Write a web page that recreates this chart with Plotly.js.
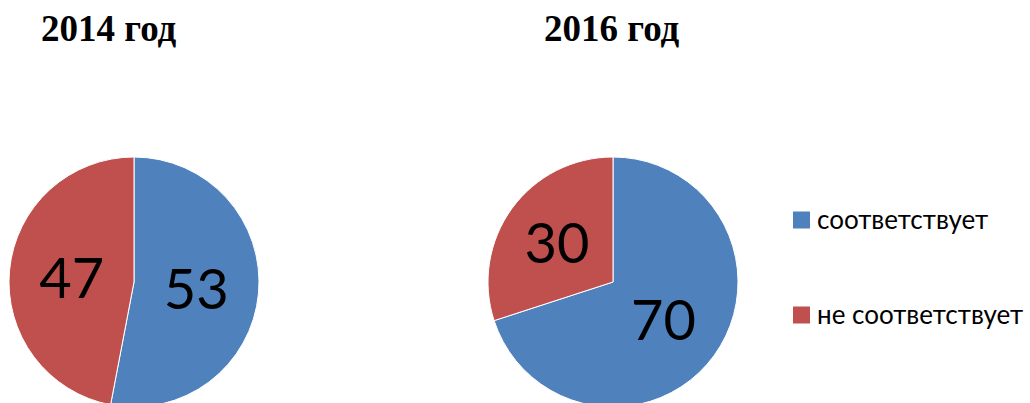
<!DOCTYPE html>
<html>
<head>
<meta charset="utf-8">
<script src="https://cdn.plot.ly/plotly-3.0.1.min.js"></script>
<style>
html, body { margin: 0; padding: 0; overflow: hidden; background: #fff; }
#chart { width: 1030px; height: 420px; }
</style>
</head>
<body>
<div id="chart"></div>
<script>
var categories = ["соответствует", "не соответствует"];
var years = ["2014 год", "2016 год"];
var values2014 = [53, 47];
var values2016 = [70, 30];
var colors = ["#4F81BD", "#C0504D"];

var W = 1030, H = 420;
function px(x) { return x / W; }
function py(yTop) { return (H - yTop) / H; }

var R = 125;
var centers = [[134, 282], [613, 282]];
var series = [values2014, values2016];

var data = series.map(function (vals, i) {
  var cx = centers[i][0], cy = centers[i][1];
  return {
    type: "pie",
    labels: categories,
    values: vals,
    sort: false,
    direction: "clockwise",
    rotation: 0,
    marker: { colors: colors, line: { color: "#FFFFFF", width: 1 } },
    textinfo: "value",
    textposition: "inside",
    insidetextorientation: "horizontal",
    textfont: { family: "Lato, 'Open Sans', sans-serif", size: 56, color: "#000000" },
    hoverinfo: "label+value",
    showlegend: false,
    domain: { x: [px(cx - R), px(cx + R)], y: [py(cy + R), py(cy - R)] }
  };
});

var titleX = [108.5, 611.5];
var annotations = years.map(function (t, i) {
  return {
    text: "<b>" + t + "</b>", xref: "paper", yref: "paper",
    x: px(titleX[i]), y: py(29), xanchor: "center", yanchor: "middle",
    showarrow: false,
    font: { family: "'Liberation Serif', 'Times New Roman', serif", size: 37, color: "#000000" }
  };
});

var legendY = [220, 315];
var shapes = [];
categories.forEach(function (c, i) {
  shapes.push({
    type: "rect", xref: "paper", yref: "paper",
    x0: px(793), x1: px(810), y0: py(legendY[i] + 8.5), y1: py(legendY[i] - 8.5),
    fillcolor: colors[i], line: { width: 0 }
  });
  annotations.push({
    text: c, xref: "paper", yref: "paper",
    x: px(815), y: py(legendY[i] - 1), xanchor: "left", yanchor: "middle",
    showarrow: false,
    font: { family: "Lato, 'Open Sans', sans-serif", size: 26, color: "#000000" }
  });
});

var layout = {
  width: W, height: H,
  margin: { l: 0, r: 0, t: 0, b: 0 },
  paper_bgcolor: "#FFFFFF",
  showlegend: false,
  annotations: annotations,
  shapes: shapes
};

Plotly.newPlot("chart", data, layout, { displayModeBar: false, staticPlot: true });
</script>
</body>
</html>
